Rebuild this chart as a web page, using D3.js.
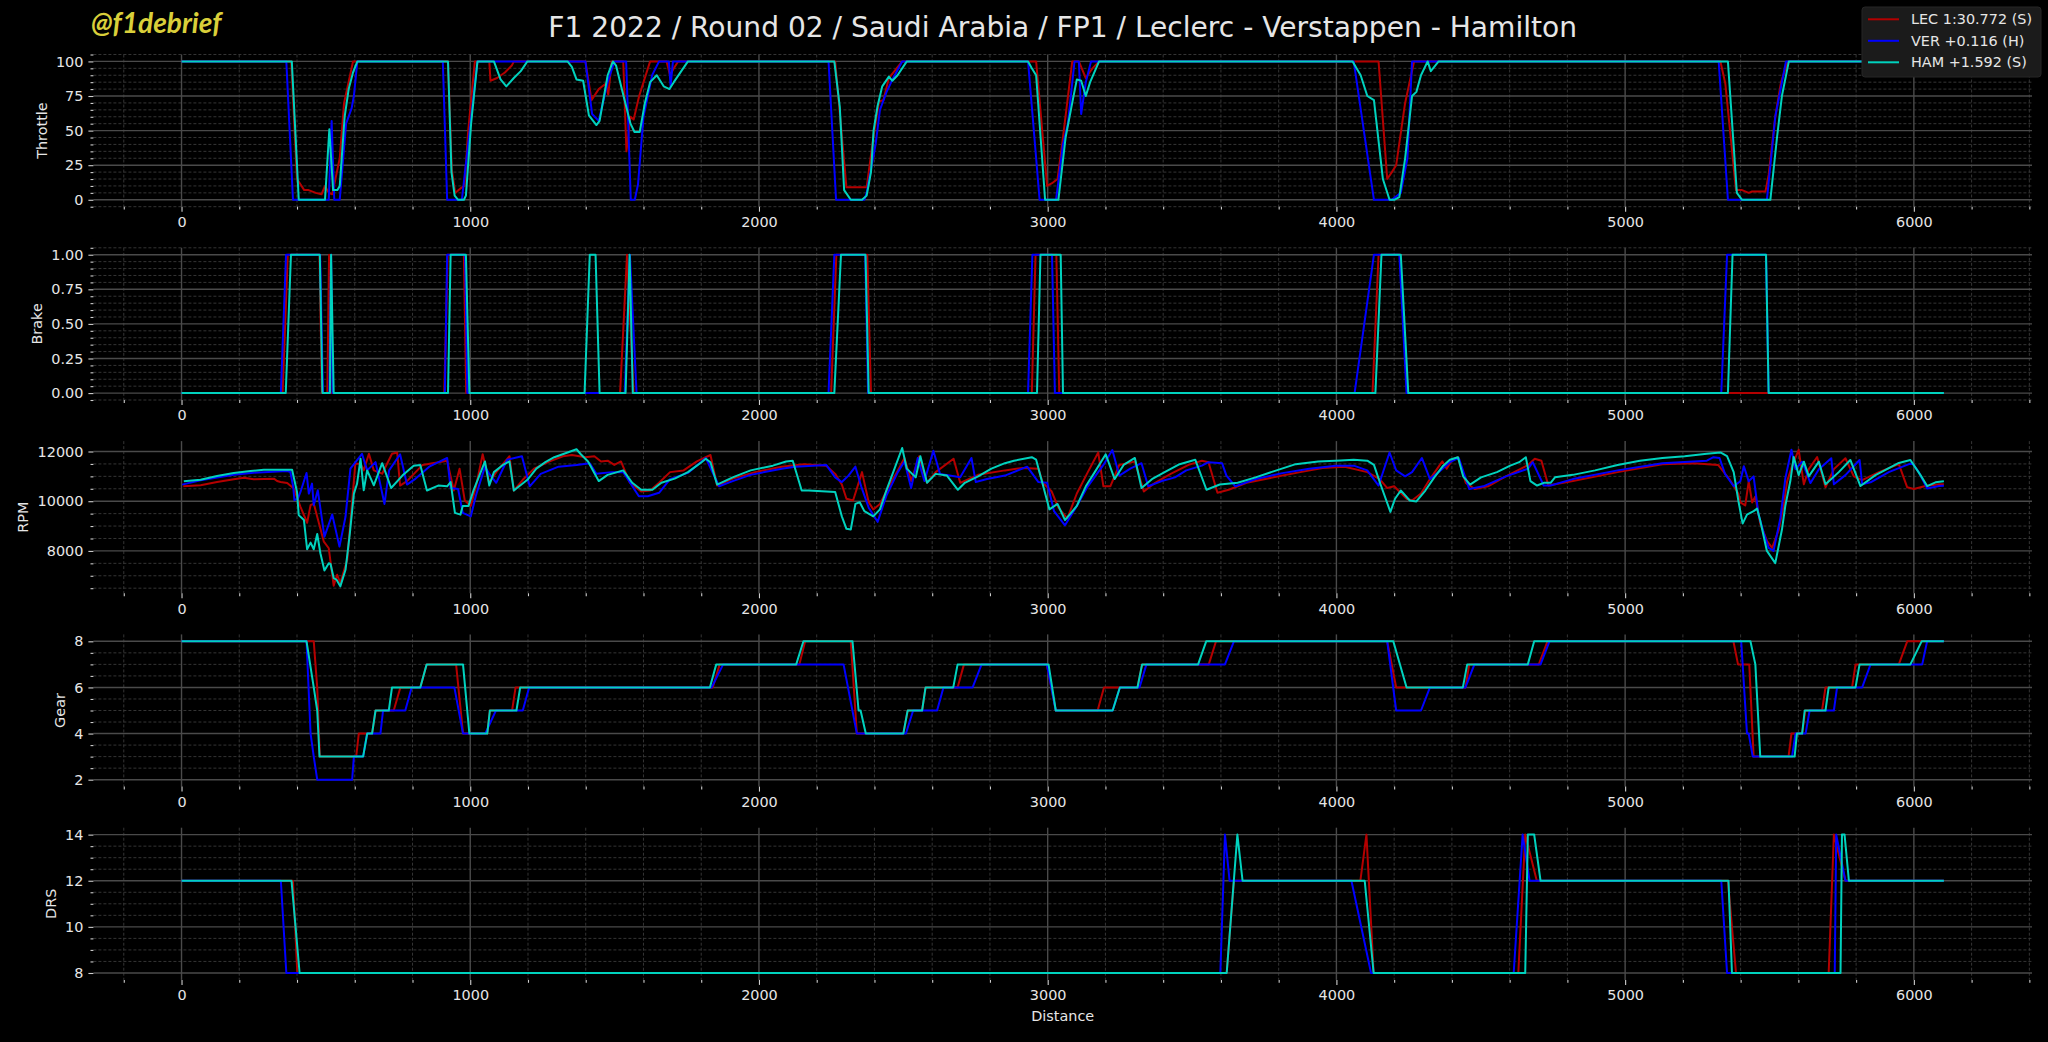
<!DOCTYPE html>
<html>
<head>
<meta charset="utf-8">
<script src="https://cdn.jsdelivr.net/npm/d3@7"></script>
<style>
  html, body { margin: 0; padding: 0; background: #000; }
  svg { display: block; }
</style>
</head>
<body>
<svg id="chart" width="2048" height="1042"></svg>
<script>
// ---------------------------------------------------------------------------
// Data (distance in m, value)
// ---------------------------------------------------------------------------
const titleText = "F1 2022 / Round 02 / Saudi Arabia / FP1 / Leclerc - Verstappen - Hamilton";
const watermark = "@f1debrief";
const drivers = ["LEC", "VER", "HAM"];
const legendLabels = ["LEC 1:30.772 (S)", "VER +0.116 (H)", "HAM +1.592 (S)"];
const channels = ["Throttle", "Brake", "RPM", "Gear", "DRS"];

const xTicks = [0, 1000, 2000, 3000, 4000, 5000, 6000];
const throttleTicks = [0, 25, 50, 75, 100];
const brakeTicks = [0, 0.25, 0.5, 0.75, 1];
const rpmTicks = [8000, 10000, 12000];
const gearTicks = [2, 4, 6, 8];
const drsTicks = [8, 10, 12, 14];

const lecThrottle = [[0,100],[380,100],[400,15],[425,7],[440,7],[465,5],[485,4],[497,10],[510,5],[522,4],[548,30],[563,70],[594,100],[923,100],[936,22],[948,5],[965,8],[980,10],[993,50],[1016,100],[1066,100],[1070,86],[1093,88],[1120,92],[1144,97],[1151,100],[1399,100],[1420,72],[1445,80],[1470,84],[1478,76],[1490,100],[1530,100],[1541,35],[1555,60],[1566,58],[1585,75],[1623,100],[1680,100],[1692,90],[1705,95],[1720,100],[2264,100],[2303,9],[2373,9],[2396,45],[2416,71],[2431,72],[2450,88],[2496,100],[2960,100],[2998,10],[3015,12],[3034,15],[3050,40],[3085,100],[3108,100],[3132,88],[3155,95],[3178,100],[4146,100],[4176,15],[4192,20],[4207,25],[4238,70],[4269,100],[5330,100],[5347,84],[5384,7],[5405,7],[5428,5],[5440,6],[5486,6],[5497,18],[5520,60],[5540,85],[5564,100],[6104,100]];
const verThrottle = [[0,100],[363,100],[386,0],[510,0],[520,57],[529,0],[548,0],[570,55],[589,66],[597,75],[609,100],[905,100],[920,0],[971,0],[1025,100],[1399,100],[1422,62],[1445,57],[1476,85],[1499,100],[1540,100],[1556,0],[1570,0],[1581,11],[1600,60],[1630,90],[1654,100],[1688,100],[1694,82],[1702,100],[2241,100],[2267,0],[2365,0],[2373,5],[2404,40],[2419,65],[2442,78],[2465,88],[2496,100],[2932,100],[2972,0],[3029,0],[3053,40],[3070,55],[3093,100],[3108,100],[3116,62],[3132,85],[3150,100],[4060,100],[4130,0],[4192,0],[4223,5],[4246,30],[4262,100],[5324,100],[5356,0],[5491,0],[5520,60],[5557,100],[6104,100]];
const hamThrottle = [[0,100],[382,100],[406,0],[497,0],[512,51],[525,7],[540,7],[548,10],[565,60],[579,80],[594,92],[609,100],[923,100],[935,20],[946,3],[958,0],[978,0],[985,3],[1003,55],[1025,100],[1082,100],[1105,87],[1125,82],[1151,88],[1175,93],[1198,100],[1337,100],[1352,96],[1368,87],[1391,86],[1411,61],[1437,54],[1448,57],[1476,90],[1494,100],[1505,97],[1525,80],[1555,55],[1569,49],[1587,49],[1605,70],[1623,85],[1646,90],[1670,82],[1690,80],[1705,85],[1754,100],[2261,100],[2280,67],[2295,7],[2318,0],[2357,0],[2373,3],[2388,20],[2397,50],[2411,68],[2427,82],[2450,89],[2462,86],[2480,90],[2512,100],[2932,100],[2945,95],[2960,90],[2991,0],[3037,0],[3062,45],[3085,70],[3101,87],[3116,86],[3132,75],[3147,85],[3178,100],[4056,100],[4084,90],[4107,75],[4130,72],[4161,15],[4184,0],[4200,0],[4218,2],[4238,30],[4262,75],[4277,78],[4293,90],[4316,100],[4327,93],[4354,100],[5356,100],[5387,5],[5405,0],[5503,0],[5526,45],[5543,75],[5567,100],[6104,100]];

const lecBrake = [[0,0],[350,0],[368,1],[478,1],[486,0],[505,0],[511,1],[516,0],[910,0],[922,1],[978,1],[986,0],[1519,0],[1543,1],[1566,0],[2250,0],[2268,1],[2375,1],[2388,0],[2945,0],[2958,1],[3030,1],[3040,0],[4125,0],[4146,1],[4220,1],[4245,0],[6104,0]];
const verBrake = [[0,0],[344,0],[362,1],[480,1],[490,0],[512,0],[518,1],[523,0],[912,0],[920,1],[982,1],[990,0],[1535,0],[1553,1],[1576,0],[2241,0],[2261,1],[2368,1],[2378,0],[2932,0],[2947,1],[3015,1],[3025,0],[4063,0],[4130,1],[4218,1],[4243,0],[5333,0],[5353,1],[5488,1],[5497,0],[6104,0]];
const hamBrake = [[0,0],[361,0],[379,1],[479,1],[488,0],[514,0],[518,1],[527,0],[923,0],[932,1],[985,1],[997,0],[1396,0],[1414,1],[1434,1],[1448,0],[1538,0],[1552,1],[1563,0],[2261,0],[2284,1],[2369,1],[2380,0],[2963,0],[2975,1],[3045,1],[3053,0],[4135,0],[4156,1],[4223,1],[4249,0],[5356,0],[5372,1],[5488,1],[5497,0],[6104,0]];

const lecRpm = [[6,10600],[66,10640],[123,10773],[181,10880],[216,10947],[250,10880],[320,10907],[331,10813],[343,10773],[366,10733],[389,10507],[412,9773],[435,9133],[447,9840],[458,9907],[470,9373],[493,8373],[510,8107],[527,6600],[539,7040],[550,6707],[574,7640],[602,11507],[620,11507],[631,11240],[649,11907],[666,11240],[695,11107],[729,11907],[747,11960],[757,10630],[781,10810],[835,11460],[920,11630],[943,10430],[963,11310],[981,10030],[1002,9810],[1020,10600],[1043,11890],[1066,10740],[1090,11170],[1136,11810],[1151,10430],[1182,10860],[1221,11310],[1275,11600],[1321,11810],[1352,11860],[1399,11770],[1430,11810],[1453,11600],[1476,11630],[1499,11460],[1522,11600],[1553,10740],[1592,10390],[1623,10430],[1654,10740],[1692,11170],[1739,11240],[1785,11600],[1832,11860],[1855,10630],[1909,10910],[1986,11170],[2079,11390],[2156,11490],[2233,11430],[2264,11100],[2287,10670],[2303,10100],[2326,10030],[2357,11170],[2380,9960],[2396,9670],[2419,9890],[2450,10600],[2481,11240],[2504,11740],[2527,10810],[2555,11810],[2582,10740],[2612,11170],[2674,11710],[2697,10740],[2759,11060],[2852,11240],[2914,11340],[2968,11310],[2983,10740],[3014,10390],[3037,9740],[3068,9310],[3101,10310],[3139,11170],[3175,11960],[3193,10600],[3217,10600],[3248,11460],[3302,11600],[3333,10390],[3372,10740],[3426,11100],[3488,11460],[3534,11630],[3557,11570],[3588,10340],[3627,10460],[3689,10740],[3782,10960],[3875,11170],[3952,11340],[4029,11390],[4107,11170],[4150,10890],[4176,10530],[4200,10600],[4218,10390],[4243,10100],[4262,10030],[4293,10310],[4324,10890],[4367,11600],[4382,11310],[4401,11670],[4421,11770],[4448,10740],[4479,10490],[4525,10600],[4587,11000],[4664,11460],[4687,11710],[4710,11630],[4734,10630],[4819,10810],[4974,11170],[5129,11490],[5237,11530],[5322,11460],[5361,10890],[5392,10310],[5399,9950],[5416,9830],[5428,10800],[5440,9950],[5451,10190],[5468,9100],[5491,8410],[5509,8120],[5532,8850],[5549,9830],[5561,10800],[5578,11410],[5601,12070],[5619,10680],[5636,11290],[5665,11780],[5694,10560],[5723,11290],[5763,11730],[5792,11000],[5821,10850],[5879,11170],[5948,11490],[5977,10560],[6000,10490],[6040,10610],[6087,10680],[6104,10680]];
const verRpm = [[2,10667],[66,10840],[181,11067],[250,11147],[366,11213],[377,11173],[387,10573],[391,10040],[403,10107],[412,10373],[433,11133],[441,10307],[452,10707],[458,9840],[472,10440],[495,8573],[522,9467],[547,8173],[568,9373],[585,11307],[625,11907],[643,11240],[672,11573],[703,9890],[719,11240],[757,11890],[781,10670],[811,10910],[858,11390],[920,11740],[932,10530],[958,10490],[974,9530],[1002,9390],[1020,10240],[1051,11390],[1066,11100],[1090,10740],[1128,11670],[1179,11810],[1206,10600],[1244,11100],[1306,11390],[1368,11460],[1414,11530],[1437,11100],[1491,11170],[1530,11170],[1584,10200],[1615,10200],[1654,10340],[1692,10890],[1754,11140],[1816,11740],[1862,10600],[1909,10810],[1971,11060],[2079,11310],[2125,11390],[2233,11460],[2264,10960],[2287,10770],[2310,11030],[2334,11390],[2354,10600],[2380,9740],[2411,9170],[2442,10240],[2481,11170],[2504,11600],[2527,10530],[2550,11740],[2573,10810],[2604,12030],[2627,11100],[2697,10960],[2736,11740],[2751,10770],[2790,10890],[2852,11030],[2929,11390],[2968,10770],[2998,10740],[3022,9600],[3060,9030],[3101,9810],[3139,10600],[3193,11460],[3224,12060],[3248,11030],[3286,11310],[3325,11530],[3348,10600],[3395,10810],[3441,10960],[3480,11240],[3534,11430],[3557,11570],[3604,11530],[3619,11030],[3650,10600],[3720,10890],[3813,11130],[3906,11310],[3998,11430],[4060,11430],[4107,11240],[4146,10630],[4184,11960],[4207,11240],[4238,11000],[4262,11170],[4296,11740],[4324,10890],[4354,11170],[4393,11570],[4424,11740],[4460,10490],[4509,10600],[4587,11000],[4664,11310],[4680,11570],[4718,10630],[4742,10630],[4819,10890],[4974,11240],[5129,11530],[5283,11630],[5306,11770],[5327,11740],[5346,11100],[5376,10600],[5399,10800],[5411,11410],[5428,10800],[5445,11000],[5462,9460],[5480,8730],[5497,8120],[5514,8000],[5538,9340],[5555,10930],[5576,12070],[5590,11290],[5613,11590],[5642,10730],[5671,11290],[5714,11730],[5723,10680],[5763,11050],[5812,11660],[5821,10680],[5850,10760],[5913,11170],[5994,11540],[6017,11170],[6046,10510],[6087,10610],[6104,10620]];
const hamRpm = [[8,10800],[66,10867],[123,11013],[181,11133],[239,11213],[285,11267],[383,11267],[400,10373],[406,9440],[424,9240],[435,8067],[447,8333],[458,8067],[470,8680],[481,7907],[495,7213],[510,7507],[516,7480],[527,6907],[537,6840],[550,6573],[568,7240],[583,8707],[597,10307],[608,10707],[620,11707],[631,10440],[643,11240],[666,10640],[695,11530],[726,10530],[765,11030],[804,11430],[827,11460],[850,10430],[889,10630],[920,10600],[932,10770],[947,9530],[966,9460],[974,9810],[994,9810],[1012,10460],[1051,11600],[1066,10630],[1082,11170],[1113,11460],[1136,11600],[1151,10430],[1198,10860],[1229,11310],[1260,11570],[1291,11770],[1337,11960],[1368,12090],[1383,11890],[1408,11600],[1445,10810],[1476,11060],[1530,11240],[1561,10740],[1592,10460],[1631,10460],[1662,10740],[1708,10910],[1754,11170],[1801,11570],[1816,11710],[1832,11570],[1855,10670],[1909,10960],[1971,11240],[2048,11430],[2094,11600],[2117,11630],[2148,10430],[2172,10430],[2264,10370],[2287,9390],[2303,8890],[2318,8860],[2334,9890],[2349,9960],[2365,9600],[2396,9390],[2419,9670],[2442,10460],[2465,11170],[2496,12140],[2512,11310],[2543,10960],[2559,11810],[2582,10740],[2612,11100],[2651,11030],[2689,10460],[2713,10740],[2759,11000],[2805,11310],[2852,11530],[2883,11630],[2945,11770],[2960,11670],[2983,10670],[3006,9670],[3034,9890],[3060,9240],[3101,9810],[3132,10600],[3163,11170],[3201,11890],[3232,10890],[3263,11460],[3302,11740],[3325,10530],[3364,10910],[3410,11200],[3457,11490],[3511,11670],[3550,10460],[3596,10670],[3658,10740],[3720,10960],[3782,11200],[3859,11490],[3937,11600],[4014,11640],[4060,11670],[4107,11630],[4130,11460],[4153,10670],[4187,9570],[4203,10100],[4223,10430],[4254,10030],[4277,9990],[4308,10430],[4339,10960],[4370,11430],[4393,11670],[4421,11770],[4439,11000],[4463,10670],[4501,10960],[4556,11170],[4602,11430],[4633,11570],[4656,11770],[4672,10810],[4695,10630],[4718,10740],[4742,10740],[4757,10960],[4819,11060],[4896,11240],[4974,11460],[5051,11630],[5129,11740],[5206,11810],[5283,11910],[5330,11960],[5353,11810],[5376,11170],[5392,10030],[5407,9100],[5422,9460],[5445,9600],[5457,9700],[5468,9220],[5491,8000],[5520,7510],[5543,8850],[5555,9830],[5572,10800],[5584,11780],[5601,11050],[5619,11590],[5636,11000],[5671,11590],[5694,10680],[5740,11170],[5780,11660],[5815,10610],[5867,11050],[5948,11540],[5988,11660],[6023,11050],[6046,10610],[6075,10760],[6104,10800]];

const lecGear = [[0,8],[458,8],[470,6],[479,3],[605,3],[614,4],[660,4],[672,5],[735,5],[758,6],[827,6],[849,7],[951,7],[975,4],[1059,4],[1068,5],[1145,5],[1157,6],[1840,6],[1864,7],[2140,7],[2160,8],[2318,8],[2339,4],[2500,4],[2515,5],[2565,5],[2577,6],[2688,6],[2710,7],[2997,7],[3028,5],[3173,5],[3195,6],[3311,6],[3327,7],[3558,7],[3583,8],[4176,8],[4207,6],[4447,6],[4460,7],[4701,7],[4731,8],[5375,8],[5391,7],[5430,7],[5445,3],[5566,3],[5576,4],[5613,4],[5624,5],[5682,5],[5694,6],[5786,6],[5798,7],[5948,7],[5977,8],[6104,8]];
const verGear = [[0,8],[433,8],[447,4],[458,3],[470,2],[591,2],[597,3],[629,3],[643,4],[689,4],[698,5],[775,5],[797,6],[945,6],[975,4],[1052,4],[1089,5],[1182,5],[1204,6],[1836,6],[1876,7],[2293,7],[2339,4],[2509,4],[2534,5],[2617,5],[2639,6],[2740,6],[2771,7],[2997,7],[3028,5],[3225,5],[3250,6],[3318,6],[3342,7],[3614,7],[3645,8],[4176,8],[4207,5],[4293,5],[4324,6],[4447,6],[4478,7],[4707,7],[4738,8],[5402,8],[5422,4],[5428,4],[5442,3],[5578,3],[5590,4],[5625,4],[5639,5],[5723,5],[5734,6],[5821,6],[5850,7],[6029,7],[6046,8],[6104,8]];
const hamGear = [[0,8],[433,8],[458,6],[470,5],[478,3],[629,3],[643,4],[660,4],[672,5],[718,5],[729,6],[827,6],[849,7],[975,7],[997,4],[1059,4],[1068,5],[1160,5],[1173,6],[1830,6],[1852,7],[2129,7],[2154,8],[2324,8],[2345,5],[2352,5],[2370,4],[2500,4],[2515,5],[2565,5],[2577,6],[2673,6],[2688,7],[3003,7],[3028,5],[3225,5],[3250,6],[3311,6],[3327,7],[3521,7],[3549,8],[4197,8],[4243,6],[4438,6],[4453,7],[4663,7],[4685,8],[5434,8],[5451,7],[5468,3],[5587,3],[5595,4],[5613,4],[5622,5],[5694,5],[5705,6],[5798,6],[5812,7],[5988,7],[6027,8],[6104,8]];

const lecDrs = [[0,12],[386,12],[401,8],[3620,8],[3645,12],[4083,12],[4104,14],[4129,8],[4630,8],[4654,14],[4694,12],[5356,12],[5384,8],[5705,8],[5723,14],[5763,12],[6104,12]];
const verDrs = [[0,12],[344,12],[363,8],[3598,8],[3614,14],[3630,12],[4052,12],[4120,8],[4614,8],[4645,14],[4669,12],[5333,12],[5353,8],[5726,8],[5731,14],[5763,12],[6104,12]];
const hamDrs = [[0,12],[381,12],[409,8],[3620,8],[3657,14],[3675,12],[4098,12],[4129,8],[4654,8],[4663,14],[4685,14],[4707,12],[5358,12],[5370,8],[5746,8],[5751,14],[5760,14],[5775,12],[6104,12]];

// ---------------------------------------------------------------------------
// Styles / layout
// ---------------------------------------------------------------------------
const driverColors = ["#b40000", "#0000ff", "#00d2be"];
const FONT = "'DejaVu Sans', sans-serif";
const textColor = "#e6e6e6";
const smallSize = 14.4;

const width = 2048;
const axLeft = 93.4;
const axRight = 2032;
const panelTop0 = 54.5;
const panelStep = 193.3;
const panelHeight = 152.2;
const innerW = axRight - axLeft;

const panels = [
  { label: channels[0], ticks: throttleTicks, minor: 5, fmt: d3.format("d"), series: [lecThrottle, verThrottle, hamThrottle] },
  { label: channels[1], ticks: brakeTicks, minor: 0.05, fmt: d3.format(".2f"), series: [lecBrake, verBrake, hamBrake] },
  { label: channels[2], ticks: rpmTicks, minor: 500, fmt: d3.format("d"), series: [lecRpm, verRpm, hamRpm] },
  { label: channels[3], ticks: gearTicks, minor: 0.5, fmt: d3.format("d"), series: [lecGear, verGear, hamGear] },
  { label: channels[4], ticks: drsTicks, minor: 0.5, fmt: d3.format("d"), series: [lecDrs, verDrs, hamDrs] },
];

// matplotlib style 5% margins
const padExtent = ext => {
  const m = (ext[1] - ext[0]) * 0.05;
  return [ext[0] - m, ext[1] + m];
};

// minor tick values inside domain, skipping the majors
const minorValues = (domain, step, majors) => {
  const i0 = Math.ceil(domain[0] / step - 1e-9);
  const i1 = Math.floor(domain[1] / step + 1e-9);
  return d3.range(i0, i1 + 1)
    .map(i => +(i * step).toFixed(6))
    .filter(v => !majors.some(m => Math.abs(m - v) < 1e-6));
};

const svg = d3.select("#chart");
svg.append("rect").attr("width", width).attr("height", 1042).attr("fill", "#000");

// Shared x scale
const allX = panels.flatMap(p => p.series.flatMap(s => s.map(d => d[0])));
const x = d3.scaleLinear().domain(padExtent(d3.extent(allX))).range([0, innerW]);
const xMinor = minorValues(x.domain(), 200, xTicks);

const line = d3.line().curve(d3.curveLinear);

panels.forEach((p, i) => {
  const top = panelTop0 + i * panelStep;
  const allY = p.series.flatMap(s => s.map(d => d[1]));
  const y = d3.scaleLinear().domain(padExtent(d3.extent(allY))).range([panelHeight, 0]);
  const yMinor = minorValues(y.domain(), p.minor, p.ticks);

  const g = svg.append("g").attr("transform", `translate(${axLeft},${top})`);

  // clip
  const clipId = "clip" + i;
  g.append("clipPath").attr("id", clipId)
    .append("rect").attr("width", innerW).attr("height", panelHeight);

  // minor grid
  const grid = g.append("g").attr("class", "grid");
  grid.selectAll(".hminor").data(yMinor).enter().append("line")
    .attr("x1", 0).attr("x2", innerW)
    .attr("y1", d => y(d)).attr("y2", d => y(d))
    .attr("stroke", "#3a3a3a").attr("stroke-width", 0.9).attr("stroke-dasharray", "3,2");
  grid.selectAll(".vminor").data(xMinor).enter().append("line")
    .attr("y1", 0).attr("y2", panelHeight)
    .attr("x1", d => x(d)).attr("x2", d => x(d))
    .attr("stroke", "#3a3a3a").attr("stroke-width", 0.9).attr("stroke-dasharray", "3,2");

  // major grid
  grid.selectAll(".hmajor").data(p.ticks).enter().append("line")
    .attr("x1", 0).attr("x2", innerW)
    .attr("y1", d => y(d)).attr("y2", d => y(d))
    .attr("stroke", "#4a4a4a").attr("stroke-width", 1.4);
  grid.selectAll(".vmajor").data(xTicks).enter().append("line")
    .attr("y1", 0).attr("y2", panelHeight)
    .attr("x1", d => x(d)).attr("x2", d => x(d))
    .attr("stroke", "#4a4a4a").attr("stroke-width", 1.4);

  // telemetry lines
  line.x(d => x(d[0])).y(d => y(d[1]));
  g.append("g").attr("clip-path", `url(#${clipId})`)
    .selectAll("path").data(p.series).enter().append("path")
    .attr("d", d => line(d))
    .attr("fill", "none")
    .attr("stroke", (d, k) => driverColors[k])
    .attr("stroke-width", 2)
    .attr("stroke-linejoin", "round");

  // y-axis (major + minor)
  const yAxisG = g.append("g")
    .call(d3.axisLeft(y).tickValues(p.ticks).tickFormat(p.fmt).tickSize(5).tickPadding(5));
  g.append("g")
    .call(d3.axisLeft(y).tickValues(yMinor).tickFormat("").tickSize(2.9));

  // x-axis (major + minor)
  g.append("g").attr("transform", `translate(0,${panelHeight})`)
    .call(d3.axisBottom(x).tickValues(xTicks).tickFormat(d3.format("d")).tickSize(5).tickPadding(5));
  g.append("g").attr("transform", `translate(0,${panelHeight})`)
    .call(d3.axisBottom(x).tickValues(xMinor).tickFormat("").tickSize(2.9));

  g.selectAll(".domain").remove();
  g.selectAll(".tick line").attr("stroke", "#cfcfcf").attr("stroke-width", 1.1);
  g.selectAll(".tick text")
    .attr("fill", textColor)
    .style("font-family", FONT)
    .style("font-size", smallSize + "px");

  // y label placed left of the widest tick label
  const maxW = d3.max(yAxisG.selectAll(".tick text").nodes(), n => n.getComputedTextLength());
  const labelX = -(5 + 5 + maxW + 5.8 + 0.236 * smallSize);
  g.append("text")
    .attr("transform", `translate(${labelX},${panelHeight / 2}) rotate(-90)`)
    .attr("text-anchor", "middle")
    .attr("fill", textColor)
    .style("font-family", FONT)
    .style("font-size", smallSize + "px")
    .text(p.label);
});

// x label
svg.append("text")
  .attr("x", axLeft + innerW / 2).attr("y", 1021)
  .attr("text-anchor", "middle")
  .attr("fill", textColor)
  .style("font-family", FONT)
  .style("font-size", smallSize + "px")
  .text("Distance");

// title
svg.append("text")
  .attr("x", axLeft + innerW / 2).attr("y", 36.5)
  .attr("text-anchor", "middle")
  .attr("fill", textColor)
  .style("font-family", FONT)
  .style("font-size", "28.1px")
  .text(titleText);

// watermark
svg.append("text")
  .attr("x", 91).attr("y", 32.5)
  .attr("fill", "#d9cf3a")
  .style("font-family", "Lato, 'Open Sans', sans-serif")
  .style("font-style", "italic")
  .style("font-weight", "bold")
  .style("font-size", "28px")
  .text(watermark);

// legend
const legend = svg.append("g").attr("transform", "translate(1862,7)");
legend.append("rect")
  .attr("width", 179).attr("height", 70).attr("rx", 3)
  .attr("fill", "#1b1b1b").attr("stroke", "#262626");
const items = legend.selectAll(".item").data(drivers).enter().append("g")
  .attr("transform", (d, k) => `translate(0,${12.3 + k * 21.5})`);
items.append("line")
  .attr("x1", 6).attr("x2", 37)
  .attr("stroke", (d, k) => driverColors[k]).attr("stroke-width", 2);
items.append("text")
  .attr("x", 49).attr("dy", "0.36em")
  .attr("fill", textColor)
  .style("font-family", FONT)
  .style("font-size", smallSize + "px")
  .text((d, k) => legendLabels[k]);
</script>
</body>
</html>
